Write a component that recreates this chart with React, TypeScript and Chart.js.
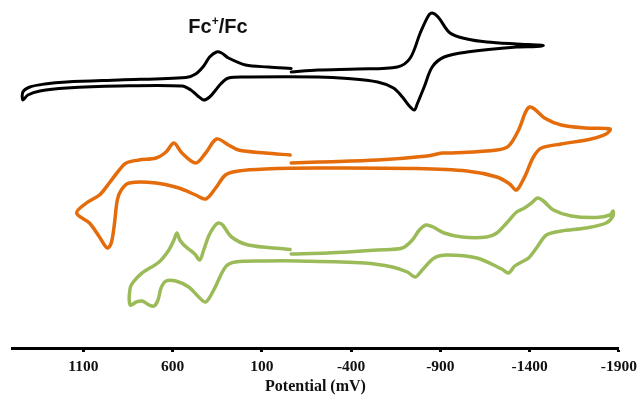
import React, { useEffect, useRef } from "react";
import { Chart, registerables } from "chart.js";

Chart.register(...registerables);

// X axis (potential, mV) – reversed, from +1500 on the left to -1900 on the right
const xTickValues = [1100, 600, 100, -400, -900, -1400, -1900];
const xMinE = -1900;
const xMaxE = 1500;
const yMinI = 0;
const yMaxI = 340;

// Black CV (ferrocene reference + compound), current in arbitrary units
const blackE = [-64, -214, -437, -659, -731, -787, -832, -854, -887, -954, -1049, -1160, -1327, -1438, -1477,
  -1438, -1327, -1049, -921, -854, -809, -770, -754, -726, -687, -637, -548, -381, -214, 176, 287, 331, 359,
  393, 426, 459, 498, 548, 899, 1194, 1344, 1411, 1439, 1439, 1400, 1316, 1194, 899, 526, 471, 426, 393, 354,
  326, 287, 192, 64, -64];
const blackI = [276, 278, 279, 281, 290, 315, 332, 335, 331, 315, 309, 306, 304, 303, 302.5,
  301.5, 301, 296, 291, 281, 261, 244, 238, 242, 251, 260, 266, 269.5, 271, 271, 270, 264, 258,
  251, 248, 252, 258, 262, 262, 260, 257, 253, 248, 256, 261, 264, 266, 268, 270.5, 274, 282, 291, 296,
  295, 290, 283, 281, 279.5];

// Orange CV
const orangeE = [-64, -214, -548, -826, -910, -965, -1216, -1282, -1338, -1377, -1399, -1427, -1483, -1577, -1716, -1850,
  -1828, -1744, -1577, -1466, -1421, -1377, -1338, -1321, -1288, -1216, -1049, -770, -214, 81, 231, 304, 359, 415,
  471, 565, 693, 843, 888, 910, 927, 944, 966, 1010, 1066, 1138, 1083, 1010, 955, 899, 860, 788, 693, 637, 593,
  548, 471, 415, 354, 287, 231, 81, -58];
const orangeI = [185, 186, 188, 192, 195, 195, 198, 202, 218, 236, 241, 239, 230, 223, 220, 219,
  214, 209, 204, 200, 191, 173, 160, 158, 164, 171, 177, 179.5, 180, 179, 177, 173, 160, 149,
  153, 160, 165, 165, 158, 148, 123, 105, 100, 111, 125, 135, 145, 153, 165, 178, 185, 188, 190, 196, 205,
  195, 185, 195, 209, 203, 198, 195, 193];

// Green CV
const greenE = [-64, -270, -548, -687, -743, -782, -820, -859, -921, -1021, -1160, -1216, -1271, -1327, -1371, -1410,
  -1444, -1477, -1533, -1633, -1772, -1850, -1867, -1867, -1828, -1716, -1577, -1494, -1438, -1394, -1355, -1316,
  -1282, -1243, -1104, -937, -865, -798, -759, -715, -631, -475, -103, 81, 248, 304, 370, 415, 454, 510, 582, 637,
  665, 682, 704, 732, 771, 804, 838, 838, 816, 771, 676, 621, 593, 576, 560, 537, 510, 476, 448, 426, 398, 365,
  343, 320, 270, 176, -30, -58];
const greenI = [94, 95, 98, 100, 108, 118, 123, 121, 115, 111, 111, 115, 125, 136, 140, 145,
  150, 147, 138, 132, 130.5, 133, 137, 132, 125, 120, 117, 113, 100, 90, 86, 82,
  75, 79, 90, 93, 90, 78, 71, 76, 81, 85, 87, 87, 86, 81, 58, 46, 51, 61, 67, 67,
  60, 48, 42, 43, 47, 46, 43, 60, 67, 75, 86, 98, 108, 115, 108, 103, 99, 94, 88, 98, 112, 122,
  125, 123, 111, 103, 99, 98.5];

// Annotation anchor (centre of "Fc+/Fc", in data units)
const fcLabelE = 346;
const fcLabelI = 315;

const seriesNames = ["Fc reference", "Complex A", "Complex B"];
const seriesColors = ["#000000", "#E46C0A", "#9BBB59"];

const toPoints = (E: number[], I: number[]) => E.map((x, i) => ({ x, y: I[i] }));

const fcLabelPlugin = {
  id: "fcLabel",
  afterDatasetsDraw(chart: any) {
    const { ctx, scales } = chart;
    const cx = scales.x.getPixelForValue(fcLabelE);
    const by = scales.y.getPixelForValue(fcLabelI);
    const big = 'bold 20px "Liberation Sans", Arial, sans-serif';
    const small = 'bold 12px "Liberation Sans", Arial, sans-serif';
    ctx.save();
    ctx.font = big;
    const w1 = ctx.measureText("Fc").width;
    const w3 = ctx.measureText("/Fc").width;
    ctx.font = small;
    const w2 = ctx.measureText("+").width;
    const left = cx - (w1 + w2 + w3) / 2;
    ctx.fillStyle = "#111";
    ctx.textBaseline = "alphabetic";
    ctx.textAlign = "left";
    ctx.font = big;
    ctx.fillText("Fc", left, by);
    ctx.font = small;
    ctx.fillText("+", left + w1, by - 8);
    ctx.font = big;
    ctx.fillText("/Fc", left + w1 + w2, by);
    ctx.restore();
  },
};

export default function App() {
  const canvasRef = useRef<HTMLCanvasElement | null>(null);

  useEffect(() => {
    if (!canvasRef.current) return;
    const serif = '"Liberation Serif", "Times New Roman", serif';
    const data = [toPoints(blackE, blackI), toPoints(orangeE, orangeI), toPoints(greenE, greenI)];
    const widths = [3, 3.5, 3.5];
    const chart = new Chart(canvasRef.current, {
      type: "scatter",
      data: {
        datasets: data.map((d, i) => ({
          label: seriesNames[i],
          data: d,
          showLine: true,
          borderColor: seriesColors[i],
          backgroundColor: seriesColors[i],
          borderWidth: widths[i],
          pointRadius: 0,
          pointHoverRadius: 0,
          tension: 0.32,
          borderJoinStyle: "round" as const,
          borderCapStyle: "round" as const,
          fill: false,
        })),
      },
      options: {
        animation: false,
        responsive: false,
        events: [],
        layout: { padding: { left: 12, right: 20, top: 8, bottom: 0 } },
        plugins: { legend: { display: false }, tooltip: { enabled: false } },
        scales: {
          x: {
            type: "linear",
            min: xMinE,
            max: xMaxE,
            reverse: true,
            afterBuildTicks: (scale: any) => {
              scale.ticks = xTickValues.map((v) => ({ value: v }));
            },
            afterFit: (scale: any) => {
              scale.height = 48;
            },
            ticks: {
              autoSkip: false,
              maxRotation: 0,
              padding: 6,
              color: "#111",
              font: { family: serif, weight: "bold", size: 15.5 },
              callback: (v: any) => String(v),
            },
            grid: {
              drawOnChartArea: false,
              drawTicks: true,
              tickLength: 4,
              tickWidth: 3,
              tickColor: "#000",
            },
            border: { display: true, color: "#000", width: 3 },
            title: {
              display: true,
              text: "Potential (mV)",
              color: "#111",
              font: { family: serif, weight: "bold", size: 16 },
              padding: { top: 0, bottom: 0 },
            },
          },
          y: {
            type: "linear",
            display: false,
            min: yMinI,
            max: yMaxI,
          },
        },
      },
      plugins: [fcLabelPlugin],
    });
    return () => chart.destroy();
  }, []);

  return (
    <div style={{ position: "fixed", left: 0, top: 0, width: 643, height: 396, background: "#fff" }}>
      <canvas ref={canvasRef} width={643} height={396} style={{ display: "block" }} />
    </div>
  );
}
